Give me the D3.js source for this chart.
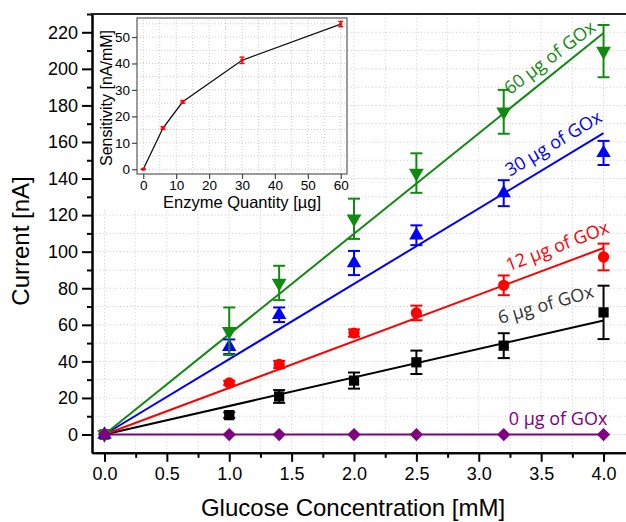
<!DOCTYPE html>
<html lang="en">
<head>
  <meta charset="UTF-8">
  <title>Current vs Glucose Concentration</title>
  <script src="https://d3js.org/d3.v7.min.js"></script>
  <style>
    body { margin: 0; background: #fff; }
    .tick text { font-family: 'Liberation Sans', Arial, sans-serif; fill: #000; }
    .note { font-family: 'Open Sans', sans-serif; font-size: 18px; }
  </style>
</head>
<body>
  <svg id="chart" width="626" height="522"></svg>
  <script>
    // glucose concentration [mM]
    const conc = [0, 1.0, 1.4, 2.0, 2.5, 3.2, 4.0];

    // current [nA] and error per enzyme quantity
    const cur0 = [0, 0, 0, 0, 0, 0, 0];
    const cur6 = [0, 10.6, 20.8, 29.5, 39.5, 48.6, 66.8];
    const err6 = [0, 1.5, 3.5, 4.4, 6.4, 6.8, 14.6];
    const cur12 = [0, 28.2, 38.3, 55.5, 66.5, 81.6, 97.1];
    const err12 = [0, 1.2, 2, 2, 4, 5.4, 7.3];
    const cur30 = [0, 48, 65.5, 93.8, 109, 132, 154];
    const err30 = [0, 4, 4, 6.6, 5.4, 7.1, 6.6];
    const cur60 = [0, 56.5, 82.9, 118, 143, 176.5, 209.7];
    const err60 = [0, 13, 9.4, 11, 10.8, 12, 14.3];

    // inset: sensitivity [nA/mM] vs enzyme quantity [µg]
    const enzyme = [0, 6, 12, 30, 60];
    const sens = [0, 15.6, 25.5, 41.2, 54.9];
    const sensErr = [0, 0.5, 0.5, 1.2, 1.0];

    const yTicks = d3.range(0, 221, 20);
    const xTicks = d3.range(0, 4.01, 0.5);
    const insetXTicks = [0, 10, 20, 30, 40, 50, 60];
    const insetYTicks = [0, 10, 20, 30, 40, 50];

    const svg = d3.select("#chart");
    const W = 626;

    const x = d3.scaleLinear().domain([-0.1, 4.18]).range([92, W]);
    const y = d3.scaleLinear().domain([-10, 230]).range([452.8, 14]);

    // grid
    const grid = svg.append("g").attr("stroke", "#cccccc").attr("stroke-width", 1)
      .attr("stroke-dasharray", "1,2.5");
    d3.range(0, 4.2, 0.25).forEach(v => {
      grid.append("line").attr("x1", x(v)).attr("x2", x(v)).attr("y1", y(-10)).attr("y2", y(230));
    });
    d3.range(0, 231, 10).forEach(v => {
      grid.append("line").attr("x1", x(-0.1)).attr("x2", W).attr("y1", y(v)).attr("y2", y(v));
    });

    // series
    const series = [
      { name: "6", vals: cur6, errs: err6, slope: sens[1], color: "#000000", sym: d3.symbolSquare, size: 105, rot: 0 },
      { name: "12", vals: cur12, errs: err12, slope: sens[2], color: "#ff0000", sym: d3.symbolCircle, size: 100, rot: 0 },
      { name: "30", vals: cur30, errs: err30, slope: sens[3], color: "#0000ff", sym: d3.symbolTriangle, size: 90, rot: 0 },
      { name: "60", vals: cur60, errs: err60, slope: sens[4], color: "#108a10", sym: d3.symbolTriangle, size: 95, rot: 180 }
    ];

    // fitted lines
    series.forEach(s => {
      svg.append("line")
        .attr("x1", x(0)).attr("y1", y(0))
        .attr("x2", x(4)).attr("y2", y(s.slope * 4))
        .attr("stroke", s.color).attr("stroke-width", 2);
    });

    // zero line
    svg.append("path")
      .datum(conc.map((c, i) => [c, cur0[i]]))
      .attr("fill", "none").attr("stroke", "#800080").attr("stroke-width", 2.2)
      .attr("d", d3.line().x(d => x(d[0])).y(d => y(d[1])));

    // error bars and markers
    series.forEach(s => {
      const g = svg.append("g").attr("stroke", s.color).attr("stroke-width", 2);
      conc.forEach((c, i) => {
        const e = s.errs[i];
        if (e <= 0) return;
        const cx = x(c);
        g.append("line").attr("x1", cx).attr("x2", cx).attr("y1", y(s.vals[i] - e)).attr("y2", y(s.vals[i] + e));
        g.append("line").attr("x1", cx - 6).attr("x2", cx + 6).attr("y1", y(s.vals[i] - e)).attr("y2", y(s.vals[i] - e));
        g.append("line").attr("x1", cx - 6).attr("x2", cx + 6).attr("y1", y(s.vals[i] + e)).attr("y2", y(s.vals[i] + e));
      });
      svg.append("g").selectAll("path")
        .data(conc.map((c, i) => [c, s.vals[i]]))
        .join("path")
        .attr("d", d3.symbol().type(s.sym).size(s.size))
        .attr("transform", d => `translate(${x(d[0])},${y(d[1])}) rotate(${s.rot})`)
        .attr("fill", s.color);
    });

    svg.append("g").selectAll("path")
      .data(conc.map((c, i) => [c, cur0[i]]))
      .join("path")
      .attr("d", d3.symbol().type(d3.symbolSquare).size(88))
      .attr("transform", d => `translate(${x(d[0])},${y(d[1])}) rotate(45)`)
      .attr("fill", "#800080");

    // series labels
    const notes = [
      { text: "60 µg of GOx", color: "#108a10", c: 3.25, slope: sens[4], off: 13, angle: -37 },
      { text: "30 µg of GOx", color: "#0000ff", c: 3.25, slope: sens[3], off: 13, angle: -31 },
      { text: "12 µg of GOx", color: "#ff0000", c: 3.24, slope: sens[2], off: 12, angle: -21 },
      { text: "6 µg of GOx", color: "#333333", c: 3.17, slope: sens[1], off: 20, angle: -16 },
      { text: "0 µg of GOx", color: "#800080", c: 3.24, slope: 0, off: 10, angle: 0 }
    ];
    notes.forEach(n => {
      svg.append("text").attr("class", "note")
        .attr("transform", `translate(${x(n.c)},${y(n.slope * n.c) - n.off}) rotate(${n.angle})`)
        .attr("fill", n.color)
        .text(n.text);
    });

    // axes
    svg.append("g").attr("transform", `translate(${x(-0.1)},0)`)
      .call(d3.axisLeft(y).tickValues(yTicks).tickSize(10).tickPadding(4).tickSizeOuter(0));
    svg.append("g").attr("transform", `translate(${x(-0.1)},0)`)
      .call(d3.axisLeft(y).tickValues(d3.range(10, 231, 20)).tickSize(5).tickFormat("").tickSizeOuter(0));
    svg.append("g").attr("transform", `translate(0,${y(-10)})`)
      .call(d3.axisBottom(x).tickValues(xTicks).tickFormat(d3.format(".1f")).tickSize(9).tickPadding(5).tickSizeOuter(0));
    svg.append("g").attr("transform", `translate(0,${y(-10)})`)
      .call(d3.axisBottom(x).tickValues(d3.range(0.25, 4.2, 0.5)).tickSize(5).tickFormat("").tickSizeOuter(0));
    svg.selectAll(".domain").attr("stroke", "#000").attr("stroke-width", 2);
    svg.selectAll(".tick line").attr("stroke", "#000").attr("stroke-width", 2);
    svg.selectAll(".tick text").attr("font-size", 18);

    // top frame
    svg.append("line").attr("x1", x(-0.1) - 1).attr("x2", W).attr("y1", y(230)).attr("y2", y(230))
      .attr("stroke", "#222").attr("stroke-width", 2);

    svg.append("text")
      .attr("x", 353).attr("y", 516).attr("text-anchor", "middle")
      .attr("font-family", "'Liberation Sans', Arial, sans-serif").attr("font-size", 24)
      .text("Glucose Concentration [mM]");
    svg.append("text")
      .attr("transform", "translate(29,241) rotate(-90)").attr("text-anchor", "middle")
      .attr("font-family", "'Liberation Sans', Arial, sans-serif").attr("font-size", 24)
      .text("Current [nA]");

    // inset
    const ix = d3.scaleLinear().domain([-1.9, 61.9]).range([137, 347]);
    const iy = d3.scaleLinear().domain([-1.8, 57.2]).range([174, 18]);
    const inset = svg.append("g");
    inset.append("rect").attr("x", 94).attr("y", 15).attr("width", 254).attr("height", 193).attr("fill", "#fff");

    const igrid = inset.append("g").attr("stroke", "#cfcfcf").attr("stroke-width", 1).attr("stroke-dasharray", "1,2");
    d3.range(0, 61, 5).forEach(v => {
      igrid.append("line").attr("x1", ix(v)).attr("x2", ix(v)).attr("y1", iy(-1.8)).attr("y2", iy(57.2));
    });
    d3.range(0, 56, 5).forEach(v => {
      igrid.append("line").attr("x1", ix(-1.9)).attr("x2", ix(61.9)).attr("y1", iy(v)).attr("y2", iy(v));
    });

    inset.append("path")
      .datum(enzyme.map((e, i) => [e, sens[i]]))
      .attr("fill", "none").attr("stroke", "#111").attr("stroke-width", 1.3)
      .attr("d", d3.line().x(d => ix(d[0])).y(d => iy(d[1])));

    const ierr = inset.append("g").attr("stroke", "#ff0000").attr("stroke-width", 1.4);
    enzyme.forEach((e, i) => {
      const cx = ix(e);
      const lo = iy(sens[i] - sensErr[i]), hi = iy(sens[i] + sensErr[i]);
      ierr.append("line").attr("x1", cx).attr("x2", cx).attr("y1", lo).attr("y2", hi);
      ierr.append("line").attr("x1", cx - 2.5).attr("x2", cx + 2.5).attr("y1", lo).attr("y2", lo);
      ierr.append("line").attr("x1", cx - 2.5).attr("x2", cx + 2.5).attr("y1", hi).attr("y2", hi);
    });
    inset.append("g").selectAll("rect")
      .data(enzyme.map((e, i) => [e, sens[i]]))
      .join("rect")
      .attr("x", d => ix(d[0]) - 1.5).attr("y", d => iy(d[1]) - 1.5)
      .attr("width", 3).attr("height", 3).attr("fill", "#ff0000");

    inset.append("rect")
      .attr("x", 137).attr("y", 18).attr("width", 210).attr("height", 156)
      .attr("fill", "none").attr("stroke", "#666").attr("stroke-width", 1.3);

    const ixAxis = inset.append("g").attr("transform", "translate(0,174)")
      .call(d3.axisBottom(ix).tickValues(insetXTicks).tickSize(5).tickPadding(1.5).tickSizeOuter(0));
    const iyAxis = inset.append("g").attr("transform", "translate(137,0)")
      .call(d3.axisLeft(iy).tickValues(insetYTicks).tickSize(5).tickPadding(2).tickSizeOuter(0));
    [ixAxis, iyAxis].forEach(a => {
      a.select(".domain").remove();
      a.selectAll(".tick line").attr("stroke", "#444").attr("stroke-width", 1.2);
      a.selectAll(".tick text").attr("font-size", 13.5);
    });

    inset.append("text")
      .attr("x", 242).attr("y", 208).attr("text-anchor", "middle")
      .attr("font-family", "'Liberation Sans', Arial, sans-serif").attr("font-size", 16.5)
      .text("Enzyme Quantity [µg]");
    inset.append("text")
      .attr("transform", "translate(112,98) rotate(-90)").attr("text-anchor", "middle")
      .attr("font-family", "'Liberation Sans', Arial, sans-serif").attr("font-size", 16)
      .text("Sensitivity [nA/mM]");
  </script>
</body>
</html>
